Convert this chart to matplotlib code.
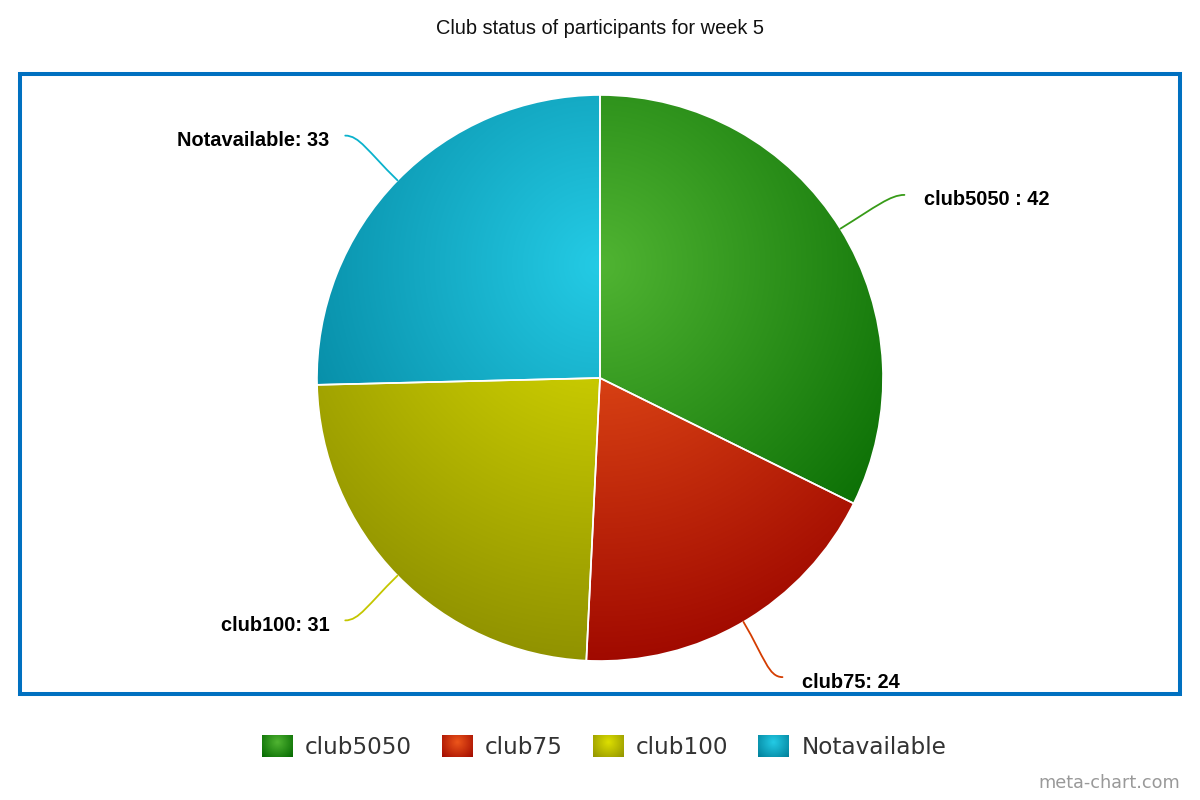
import numpy as np
import matplotlib
matplotlib.use('Agg')
import matplotlib.pyplot as plt
from matplotlib.patches import Rectangle
from matplotlib.path import Path
from matplotlib.patches import PathPatch
from matplotlib.colors import to_rgb

categories = ['club5050 ', 'club75', 'club100', 'Notavailable']
values = [42, 24, 31, 33]
colors = ['#50B432', '#ED561B', '#DDDF00', '#24CBE5']
title = 'Club status of participants for week 5'

W, H = 1200, 800
cx, cy, r = 600, 422, 283


def darker(c, amt=0.3):
    return tuple(max(0.0, v - amt) for v in to_rgb(c))


def gradient_img(c, x0, x1, y0, y1, gx, gy, gr, n=400):
    xs = np.linspace(x0, x1, n)
    ys = np.linspace(y1, y0, n)
    X, Y = np.meshgrid(xs, ys)
    t = np.clip(np.hypot(X - gx, Y - gy) / gr, 0, 1)[..., None]
    a = np.array(to_rgb(c))
    b = np.array(darker(c))
    return a + (b - a) * t


fig = plt.figure(figsize=(12, 8), dpi=100)
ax = fig.add_axes([0, 0, 1, 1])

wedges, _ = ax.pie(values, colors=colors, startangle=90, counterclock=False,
                   center=(cx, cy), radius=r, frame=True,
                   wedgeprops=dict(edgecolor='white', linewidth=1.2))
ax.set_xlim(0, W)
ax.set_ylim(0, H)
ax.set_aspect('equal')
ax.axis('off')

# radial gradient shared by the whole pie (centre at 30% from top)
gx, gy, gr = cx, cy + r - 0.3 * 2 * r, 0.7 * 2 * r
for w, c in zip(wedges, colors):
    img = gradient_img(c, cx - r, cx + r, cy - r, cy + r, gx, gy, gr)
    im = ax.imshow(img, extent=(cx - r, cx + r, cy - r, cy + r), zorder=1.5,
                   interpolation='bilinear')
    im.set_clip_path(w)
    w.set_facecolor('none')
    w.set_zorder(2)

# labels with soft connectors
total = sum(values)
cum = 0
for name, v, c in zip(categories, values, colors):
    mid = (cum + v / 2) / total * 2 * np.pi
    cum += v
    dx, dy = np.sin(mid), np.cos(mid)
    side = 1 if dx > 0 else -1
    p0 = np.array([cx + r * dx, cy + r * dy])
    e = np.array([cx + (r + 73) * dx + (2 if side > 0 else 0), cy + (r + 64) * dy])
    c1 = p0 + np.array([dx, dy]) * 42
    c2 = e - np.array([side * 14, 0])
    path = Path([p0, c1, c2, e], [Path.MOVETO, Path.CURVE4, Path.CURVE4, Path.CURVE4])
    ax.add_patch(PathPatch(path, facecolor='none', edgecolor=darker(c, 0.1),
                           linewidth=1.3, zorder=3, capstyle='round'))
    ax.text(e[0] + (20 if side > 0 else -16), e[1] - 5, f'{name}: {v}',
            ha='left' if side > 0 else 'right',
            va='center', fontsize=14.4, fontweight='bold', family='Liberation Sans',
            color='black')

ax.text(W / 2, H - 28, title, ha='center', va='center', fontsize=14.4,
        family='Liberation Sans', color='#111111')

ax.add_patch(Rectangle((20, H - 694), 1160, 620, fill=False, edgecolor='#0070C0',
                       linewidth=2.9, zorder=4))

# legend
fig.canvas.draw()
renderer = fig.canvas.get_renderer()
x = 262
ly = H - 746
for name, c in zip(categories, colors):
    img = gradient_img(c, x, x + 31, ly - 11, ly + 11, x + 15.5, ly + 4, 22, n=40)
    ax.imshow(img, extent=(x, x + 31, ly - 11, ly + 11), zorder=3)
    t = ax.text(x + 43, ly - 1, name.strip(), ha='left', va='center', fontsize=16.7,
                family='DejaVu Sans', color='#333333')
    bb = t.get_window_extent(renderer)
    x = bb.x1 + 30
ax.set_xlim(0, W)
ax.set_ylim(0, H)

ax.text(1180, H - 783, 'meta-chart.com', ha='right', va='center', fontsize=12.7,
        family='DejaVu Sans', color='#999999')

fig.savefig('out.png', dpi=100)
